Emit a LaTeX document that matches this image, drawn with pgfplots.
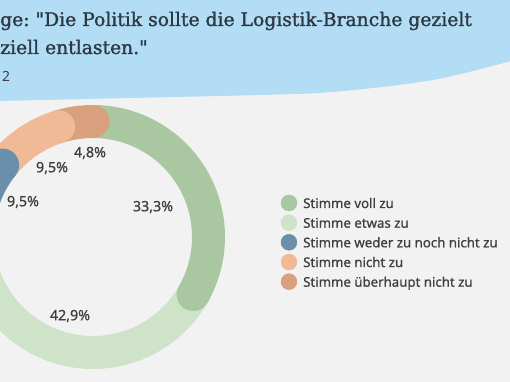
\documentclass[border=0pt]{standalone}
\usepackage{fontspec}
\setmainfont{DejaVu Serif}
\newfontfamily\titlefont{DejaVu Serif}[FakeBold=1.4]
\newfontfamily\lab{Noto Sans}
\newfontfamily\labb{Noto Sans}[FakeBold=0.8]
\usepackage{pgfplots}
\usepackage{pgfplotstable}
\pgfplotsset{compat=1.18}
\definecolor{cA}{HTML}{A9C8A2}
\definecolor{cB}{HTML}{CEE3C7}
\definecolor{cC}{HTML}{6A8FAA}
\definecolor{cD}{HTML}{F1BA96}
\definecolor{cE}{HTML}{D9A07E}
\definecolor{bgblue}{HTML}{B3DDF5}
\definecolor{bggray}{HTML}{F2F2F2}
\definecolor{titlec}{HTML}{2D3843}
\definecolor{labc}{HTML}{3F3F3F}
\pgfplotstableread{
label value
voll 33.3
etwas 42.9
weder 9.5
nicht 9.5
ueberhaupt 4.8
}\donutdata
\frenchspacing
\begin{document}
\begin{tikzpicture}
\pgfplotstablegetelem{0}{value}\of\donutdata \let\vA\pgfplotsretval
\pgfplotstablegetelem{1}{value}\of\donutdata \let\vB\pgfplotsretval
\pgfplotstablegetelem{2}{value}\of\donutdata \let\vC\pgfplotsretval
\pgfplotstablegetelem{3}{value}\of\donutdata \let\vD\pgfplotsretval
\pgfplotstablegetelem{4}{value}\of\donutdata \let\vE\pgfplotsretval
\pgfmathsetmacro\aA{90}
\pgfmathsetmacro\aB{\aA-3.6*\vA}
\pgfmathsetmacro\aC{\aB-3.6*\vB}
\pgfmathsetmacro\aD{\aC-3.6*\vC}
\pgfmathsetmacro\aE{\aD-3.6*\vD}
\pgfmathsetmacro\aF{\aE-3.6*\vE}
\pgfmathsetmacro\cB{\aB+0.3}
\pgfmathsetmacro\cC{\aC+0.3}
\pgfmathsetmacro\cD{\aD+0.3}
\pgfmathsetmacro\cE{\aE+0.3}
\pgfmathsetmacro\cF{\aF+0.3}
\useasboundingbox (0,0) rectangle (510bp,382bp);
\begin{axis}[
  at={(0,0)}, anchor=south west,
  width=510bp, height=382bp, scale only axis,
  xmin=0, xmax=510, ymin=0, ymax=382,
  hide axis, clip=true,
  axis background/.style={fill=bggray},
]
\fill[bgblue] (axis cs:-5,390) -- (axis cs:-5,281)
  -- plot[smooth] coordinates {(0,281) (130,284) (260,287) (333,290) (433,302) (515,322)}
  -- (axis cs:515,390) -- cycle;
% ring segments
\addplot[domain=\aB:\aA, samples=120, line width=33bp, draw=cA, no marks] ({93+115.5*cos(x)},{145+115.5*sin(x)});
\addplot[domain=\aC:\aB, samples=150, line width=33bp, draw=cB, no marks] ({93+115.5*cos(x)},{145+115.5*sin(x)});
\addplot[domain=\aD:\aC, samples=40, line width=33bp, draw=cC, no marks] ({93+115.5*cos(x)},{145+115.5*sin(x)});
\addplot[domain=\aE:\aD, samples=40, line width=33bp, draw=cD, no marks] ({93+115.5*cos(x)},{145+115.5*sin(x)});
\addplot[domain=\aF:\aE, samples=30, line width=33bp, draw=cE, no marks] ({93+115.5*cos(x)},{145+115.5*sin(x)});
% rounded ends
\addplot[domain=\aB:\cB, samples=3, line width=33bp, line cap=round, draw=cA, no marks] ({93+115.5*cos(x)},{145+115.5*sin(x)});
\addplot[domain=\aC:\cC, samples=3, line width=33bp, line cap=round, draw=cB, no marks] ({93+115.5*cos(x)},{145+115.5*sin(x)});
\addplot[domain=\aD:\cD, samples=3, line width=33bp, line cap=round, draw=cC, no marks] ({93+115.5*cos(x)},{145+115.5*sin(x)});
\addplot[domain=\aE:\cE, samples=3, line width=33bp, line cap=round, draw=cD, no marks] ({93+115.5*cos(x)},{145+115.5*sin(x)});
\addplot[domain=\aF:\cF, samples=3, line width=33bp, line cap=round, draw=cE, no marks] ({93+115.5*cos(x)},{145+115.5*sin(x)});
% legend markers
\addplot[only marks, mark=*, mark size=8bp, color=cA] coordinates {(289,179)};
\addplot[only marks, mark=*, mark size=8bp, color=cB] coordinates {(289,159.3)};
\addplot[only marks, mark=*, mark size=8bp, color=cC] coordinates {(289,139.7)};
\addplot[only marks, mark=*, mark size=8bp, color=cD] coordinates {(289,120)};
\addplot[only marks, mark=*, mark size=8bp, color=cE] coordinates {(289,100.3)};
% legend texts
\begin{scope}[every node/.style={anchor=base west, inner sep=0pt, text=labc, font=\labb\fontsize{13.3}{15}\selectfont}]
\node at (axis cs:303,174) {Stimme voll zu};
\node at (axis cs:303,154.3) {Stimme etwas zu};
\node at (axis cs:303,134.7) {Stimme weder zu noch nicht zu};
\node at (axis cs:303,115) {Stimme nicht zu};
\node at (axis cs:303,95.3) {Stimme überhaupt nicht zu};
\end{scope}
% percentage labels
\begin{scope}[every node/.style={anchor=center, inner sep=0pt, text=labc, font=\labb\fontsize{14.3}{16}\selectfont}]
\node at (axis cs:90,229) {4,8\%};
\node at (axis cs:52,214) {9,5\%};
\node at (axis cs:23,180) {9,5\%};
\node at (axis cs:153,175) {33,3\%};
\node at (axis cs:70,66) {42,9\%};
\end{scope}
% title
\node[anchor=base west, inner sep=0pt, text=titlec, font=\titlefont\fontsize{18.8}{22}\selectfont] at (axis cs:0,356) {ge: \textquotedbl Die Politik sollte die Logistik-Branche gezielt};
\node[anchor=base west, inner sep=0pt, text=titlec, font=\titlefont\fontsize{18.8}{22}\selectfont] at (axis cs:0,328) {ziell entlasten.\textquotedbl};
\node[anchor=base west, inner sep=0pt, text=labc, font=\lab\fontsize{14}{16}\selectfont] at (axis cs:2,300) {2};
\end{axis}
\end{tikzpicture}
\end{document}
